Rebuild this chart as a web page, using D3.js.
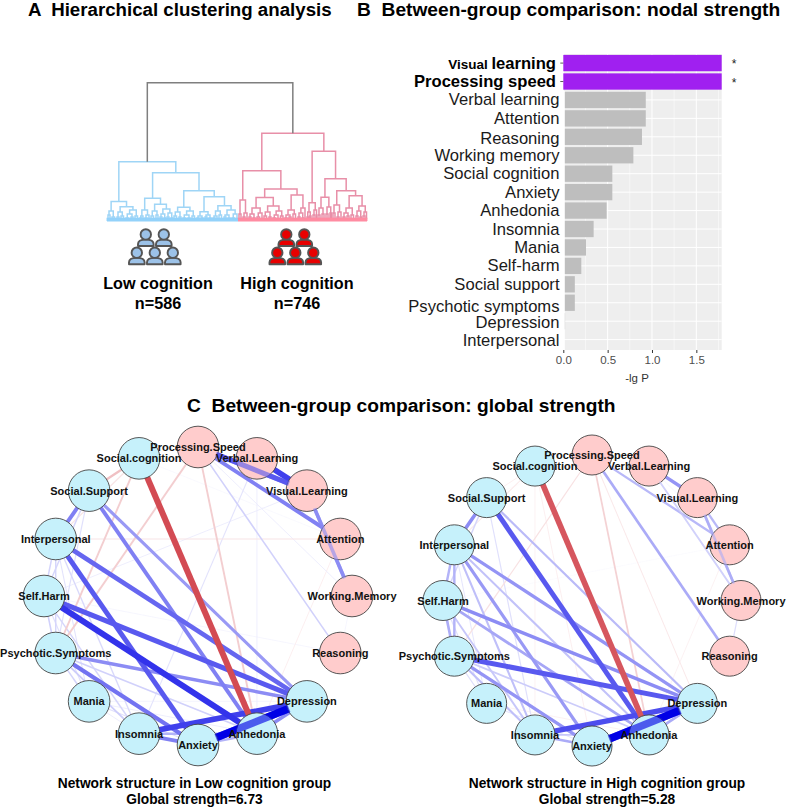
<!DOCTYPE html>
<html>
<head>
<meta charset="utf-8">
<script src="https://cdnjs.cloudflare.com/ajax/libs/d3/7.8.5/d3.min.js"></script>
<style>
html,body{margin:0;padding:0;background:#fff}
svg{display:block}
text{font-family:"Liberation Sans",Arial,sans-serif}
</style>
</head>
<body>
<svg id="fig" width="787" height="807"></svg>
<script>
// Panel B: nodal strength comparison
const domains = ["Visual learning","Processing speed","Verbal learning","Attention","Reasoning","Working memory","Social cognition","Anxiety","Anhedonia","Insomnia","Mania","Self-harm","Social support","Psychotic symptoms","Depression","Interpersonal"];
const lgP = [1.79,1.79,0.93,0.93,0.887,0.79,0.553,0.553,0.489,0.342,0.256,0.203,0.13,0.13,0.02,0.003];
const significant = ["Visual learning","Processing speed"];
const xTicks = [0,0.5,1,1.5];

// Panel C: network nodes, in clockwise order from the top
const nodeNames = ["Processing.Speed","Verbal.Learning","Visual.Learning","Attention","Working.Memory","Reasoning","Depression","Anhedonia","Anxiety","Insomnia","Mania","Psychotic.Symptoms","Self.Harm","Interpersonal","Social.Support","Social.cognition"];
const cognitiveNodes = nodeNames.slice(0,6);

// Edges: [from, to, weight]; negative weights are drawn red
const lowEdges = [
 ["Anxiety","Depression",1],["Insomnia","Depression",.75],["Self.Harm","Anhedonia",.8],["Interpersonal","Anxiety",.65],
 ["Interpersonal","Depression",.6],["Self.Harm","Depression",.65],["Psychotic.Symptoms","Depression",.45],["Social.Support","Depression",.4],
 ["Social.Support","Anhedonia",.5],["Psychotic.Symptoms","Anxiety",.55],["Insomnia","Anxiety",.5],["Anhedonia","Depression",.45],
 ["Social.Support","Interpersonal",.5],["Verbal.Learning","Visual.Learning",.75],["Processing.Speed","Visual.Learning",.65],
 ["Processing.Speed","Attention",.5],["Visual.Learning","Working.Memory",.45],["Processing.Speed","Reasoning",.18],
 ["Social.cognition","Anhedonia",-.8],["Processing.Speed","Anhedonia",-.22],["Social.cognition","Psychotic.Symptoms",-.22],
 ["Processing.Speed","Psychotic.Symptoms",-.22],["Social.Support","Social.cognition",-.28],["Social.cognition","Interpersonal",-.12],
 ["Interpersonal","Attention",-.12],["Verbal.Learning","Anhedonia",.08],["Verbal.Learning","Insomnia",.11],["Visual.Learning","Self.Harm",.08],
 ["Anhedonia","Attention",-.08],["Interpersonal","Self.Harm",.17],["Interpersonal","Psychotic.Symptoms",.16],["Interpersonal","Mania",.11],
 ["Interpersonal","Insomnia",.15],["Self.Harm","Mania",.12],["Self.Harm","Insomnia",.16],["Psychotic.Symptoms","Mania",.17],
 ["Psychotic.Symptoms","Insomnia",.2],["Mania","Insomnia",.08],["Mania","Anhedonia",.08],["Mania","Anxiety",.12],["Mania","Depression",.06],
 ["Self.Harm","Psychotic.Symptoms",.18],["Social.Support","Self.Harm",.16],["Social.Support","Psychotic.Symptoms",.12],
 ["Insomnia","Anhedonia",.3],["Psychotic.Symptoms","Anhedonia",.18],["Processing.Speed","Working.Memory",.08],["Reasoning","Working.Memory",.05],
 ["Verbal.Learning","Attention",.06],["Social.cognition","Attention",.04],["Self.Harm","Reasoning",.05],["Anxiety","Anhedonia",.3]
];
const highEdges = [
 ["Anxiety","Depression",1],["Insomnia","Depression",.7],["Social.Support","Anhedonia",.65],["Psychotic.Symptoms","Depression",.65],
 ["Self.Harm","Depression",.45],["Interpersonal","Depression",.42],["Interpersonal","Anxiety",.4],["Psychotic.Symptoms","Anxiety",.42],
 ["Social.Support","Depression",.27],["Social.Support","Interpersonal",.45],["Interpersonal","Insomnia",.25],["Interpersonal","Anhedonia",.24],
 ["Interpersonal","Self.Harm",.3],["Interpersonal","Psychotic.Symptoms",.3],["Social.Support","Self.Harm",.16],["Social.Support","Insomnia",.12],
 ["Self.Harm","Anhedonia",.35],["Self.Harm","Insomnia",.22],["Psychotic.Symptoms","Insomnia",.25],["Psychotic.Symptoms","Anhedonia",.2],
 ["Self.Harm","Psychotic.Symptoms",.32],["Psychotic.Symptoms","Mania",.12],["Self.Harm","Mania",.12],["Interpersonal","Mania",.1],
 ["Insomnia","Anxiety",.33],["Anhedonia","Depression",.33],["Insomnia","Anhedonia",.22],["Mania","Anxiety",.1],
 ["Processing.Speed","Attention",.28],["Processing.Speed","Reasoning",.33],["Verbal.Learning","Visual.Learning",.42],["Verbal.Learning","Working.Memory",.18],
 ["Visual.Learning","Working.Memory",.32],["Visual.Learning","Attention",.28],["Reasoning","Working.Memory",.13],
 ["Social.cognition","Anhedonia",-.75],["Processing.Speed","Anhedonia",-.2],["Processing.Speed","Depression",-.1],["Anhedonia","Attention",-.07],
 ["Processing.Speed","Psychotic.Symptoms",-.13],["Social.cognition","Interpersonal",-.1],["Social.Support","Social.cognition",-.08],
 ["Social.cognition","Insomnia",-.07],["Social.cognition","Anxiety",-.08],["Mania","Anhedonia",-.07],["Verbal.Learning","Attention",.05],
 ["Processing.Speed","Social.Support",-.03],["Attention","Self.Harm",.03]
];
// Edges that stay visible across the circles they pass behind
const lowCrossing = [["Anxiety","Depression"],["Processing.Speed","Visual.Learning"],["Visual.Learning","Working.Memory"]];
const highCrossing = [["Anxiety","Depression"],["Visual.Learning","Working.Memory"],["Verbal.Learning","Working.Memory"]];

// Panel A: dendrogram as [merge height, left, right]; a bare number is a tuft of that many leaves
const lowTree = [59.3,
 [19.5,
  [10,[6,2,2],[4,2,3]],
  [14.3,[9,[4,2,2],[5,2,3]],[11,[7,[3,2,3],[4,2,2]],[5,2,3]]]],
 [48.3,
  [22.7,
   [11,[5,[3,2,1],2],[6,[3,2,2],2]],
   [16.7,[10,[5,2,3],[6,2,2]],[12,[7,[4,2,2],[3,2,1]],[8,[4,2,2],[3,2,1]]]]],
  [30.3,
   [13.7,[9,[5,2,3],[4,2,2]],[10,[6,[3,2,3],[3,2,2]],[5,2,3]]],
   [24.3,
    [9.3,[5,[3,2,2],[3,2,2]],[6,[4,2,2],[3,2,2]]],
    [15.3,[10,[5,[3,2,2],2],[6,2,3]],[11,[6,[4,2,2],[3,2,2]],[7,[3,2,3],2]]]]]]];
const highTree = [87.7,
 [50.3,
  [21,[7,2,2],[8,[4,2,2],2]],
  [32,
   [23.5,
    [13,[7,[4,2,2],[3,2,2]],[8,[4,2,3],2]],
    [15,[9,[5,2,3],[4,2,2]],[10,[6,[3,2,3],2],[5,3,2]]]],
   [26,[11,[6,[3,2,2],[4,2,2]],[7,2,3]],[13,[8,[4,2,2],[3,2,1]],2]]]],
 [69.7,
  [18.3,[9,[4,2,1],[5,1,2]],[11,[6,2,2],1]],
  [42.3,
   [23.7,[13,[6,2,2],[7,2,2]],[14,[7,2,2],[8,2,1]]],
   [30.3,
    [16,[8,2,2],[9,[4,2,2],2]],
    [25.3,[13,[8,[4,2,2],[5,2,2]],[6,2,3]],[15,[10,[5,2,2],[4,2,1]],[9,[5,2,2],1]]]]]]];
const rootHeight = 138.3;
const groups = [
 {name:"Low cognition", n:"n=586", tree:lowTree, line:"#9fd5f6", band:"#93d2fa", fill:"#9cc2e8"},
 {name:"High cognition", n:"n=746", tree:highTree, line:"#e88fa8", band:"#ff8ca2", fill:"#e80000"}
];

const svg = d3.select("#fig");

function bold(sel, size){ return sel.attr("font-weight",700).attr("font-size",size).attr("fill","#000"); }

// Panel headings
[["A  Hierarchical clustering analysis",28,15.5,18.7],["B  Between-group comparison: nodal strength",357,15.5,19.2],["C  Between-group comparison: global strength",187,412,19.2]]
 .forEach(([t,x,y,s])=>bold(svg.append("text").attr("x",x).attr("y",y).style("white-space","pre").text(t),s));

// ---------- Panel A ----------
(function dendrogram(){
  const totalLeaves = 260;
  const x = d3.scaleLinear().domain([0,totalLeaves]).range([107,367]);
  const y = d3.scaleLinear().domain([0,rootHeight]).range([221,82.7]);
  const g = svg.append("g").attr("fill","none").attr("stroke-width",1.5);
  let cursor = 0;
  const tops = [];
  groups.forEach(gr=>{
    const root = d3.hierarchy(gr.tree, d=>Array.isArray(d)?d.slice(1):null);
    const first = cursor;
    root.eachAfter(n=>{
      if(n.children){
        n.px = d3.mean(n.children,c=>c.px);
        n.h = n.data[0];
      } else {
        n.px = cursor + n.data/2;
        n.from = cursor; n.to = cursor + n.data;
        n.h = 2.5;
        cursor += n.data;
      }
    });
    root.each(n=>{
      if(n.children){
        const [a,b] = n.children;
        g.append("path").attr("stroke",gr.line)
         .attr("d",`M${x(a.px)},${y(a.h)}V${y(n.h)}H${x(b.px)}V${y(b.h)}`);
      } else {
        g.append("path").attr("stroke",gr.band).attr("d",`M${x(n.from)+.3},${y(0)}V${y(n.h)}H${x(n.to)-.3}V${y(0)}`);
      }
    });
    // Solid leaf band along the baseline
    svg.append("rect").attr("x",x(first)).attr("width",x(cursor)-x(first)).attr("y",y(2.5)).attr("height",y(0)-y(2.5)+.5).attr("fill",gr.band);
    tops.push(root);
  });
  g.append("path").attr("stroke","#7f7f7f")
   .attr("d",`M${x(tops[0].px)},${y(tops[0].h)}V${y(rootHeight)}H${x(tops[1].px)}V${y(tops[1].h)}`);

  // People pictograms and group labels
  const slots = [[0,-9],[1,9],[1,-18],[1,0],[1,18]];
  const rowY = [235,253.3];
  const iconCx = [154.8,295.3];
  groups.forEach((gr,i)=>{
    slots.forEach(([row,dx],k)=>{
      const cx = iconCx[i]+dx, cy = rowY[k<2?0:1];
      const p = svg.append("g").attr("transform",`translate(${cx},${cy})`).attr("fill",gr.fill).attr("stroke","#555").attr("stroke-width",1.9);
      p.append("path").attr("d","M-7.8,11V9C-7.8,5.6 -4.6,4.6 0,4.6C4.6,4.6 7.8,5.6 7.8,9V11Z").attr("stroke-linejoin","round");
      p.append("circle").attr("r",5.2).attr("cy",-.6);
    });
    const cx = [158,297][i];
    bold(svg.append("text").attr("x",cx).attr("y",288.5).attr("text-anchor","middle").text(gr.name),16.2);
    bold(svg.append("text").attr("x",cx).attr("y",308.5).attr("text-anchor","middle").text(gr.n),16.2);
  });
})();

// ---------- Panel B ----------
(function bars(){
  const x = d3.scaleLinear().domain([0,1.786]).range([563.3,721.7]);
  const y = d3.scaleBand().domain(domains).range([54,348.7]).paddingInner(.115).paddingOuter(.05);
  const top=54,bottom=350;
  svg.append("rect").attr("x",x(0)).attr("y",top).attr("width",x.range()[1]-x(0)).attr("height",bottom-top).attr("fill","#eeeeee");
  const grid = svg.append("g").attr("stroke","#fff");
  const minor = [.25,.75,1.25,1.75];
  grid.selectAll(".mn").data(minor).join("line").attr("x1",x).attr("x2",x).attr("y1",top).attr("y2",bottom).attr("stroke-width",.5);
  grid.selectAll(".mj").data(xTicks).join("line").attr("x1",x).attr("x2",x).attr("y1",top).attr("y2",bottom).attr("stroke-width",1);
  grid.selectAll(".hz").data(domains).join("line").attr("x1",x(0)).attr("x2",x.range()[1])
    .attr("y1",d=>y(d)+y.bandwidth()/2).attr("y2",d=>y(d)+y.bandwidth()/2).attr("stroke-width",1);
  svg.append("g").selectAll("rect").data(domains).join("rect")
    .attr("x",x(0)).attr("y",d=>y(d)).attr("height",y.bandwidth())
    .attr("width",(d,i)=>Math.min(x(lgP[i]),x.range()[1])-x(0))
    .attr("fill",d=>significant.includes(d)?"#a020f0":"#bebebe");
  // Pale rule along the axis below the highlighted rows
  svg.append("rect").attr("x",x(0)-.5).attr("width",2).attr("y",y(domains[2])-1).attr("height",bottom-y(domains[2])+1).attr("fill","#fff");

  const labelNudge = {"Reasoning":2,"Psychotic symptoms":4,"Depression":1.5,"Interpersonal":.5};
  domains.forEach(d=>{
    const cy = y(d)+y.bandwidth()/2+(labelNudge[d]||0)+5.5;
    if(significant.includes(d)){
      const t = svg.append("text").attr("x",556).attr("y",cy).attr("text-anchor","end").attr("font-weight",700).attr("font-size",16.6);
      if(d==="Visual learning"){
        t.append("tspan").attr("font-size",13.5).text("Visual ");
        t.append("tspan").text("learning");
      } else t.text(d);
      svg.append("text").attr("x",734).attr("y",y(d)+y.bandwidth()/2+5).attr("text-anchor","middle").attr("font-size",12).attr("fill","#222").text("*");
      svg.append("line").attr("x1",x(0)-3).attr("x2",x(0)).attr("y1",y(d)+y.bandwidth()/2).attr("y2",y(d)+y.bandwidth()/2).attr("stroke","#333").attr("stroke-width",.8);
    } else {
      svg.append("text").attr("x",559.5).attr("y",cy).attr("text-anchor","end").attr("font-size",16.6).attr("fill","#1a1a1a").text(d);
    }
  });

  const axis = d3.axisBottom(x).tickValues(xTicks).tickFormat(d3.format(".1f")).tickSize(3).tickPadding(3);
  const ax = svg.append("g").attr("transform",`translate(0,${bottom})`).call(axis);
  ax.select(".domain").remove();
  ax.selectAll("line").attr("stroke","#333");
  ax.selectAll("text").attr("font-family",'"Liberation Sans",Arial,sans-serif').attr("font-size",11.5).attr("fill","#4d4d4d");
  svg.append("text").attr("x",637).attr("y",382).attr("text-anchor","middle").attr("font-size",11.5).attr("fill","#333").text("-lg P");
})();

// ---------- Panel C ----------
const width = d3.scaleLinear().domain([0,1]).range([.3,7.5]);
const blue = d3.scaleLinear().domain([0,1]).range(["#ffffff","#0000e6"]);
const red = d3.scaleLinear().domain([0,1]).range(["#ffffff","#c81e28"]);
const angle = d3.scaleLinear().domain([0,nodeNames.length]).range([0,2*Math.PI]);

function network(edges, crossing, cx, cy, rx, ry, r, title, sub, titleX){
  const pos = {};
  nodeNames.forEach((n,i)=>{ pos[n]=[cx+rx*Math.sin(angle(i)), cy-ry*Math.cos(angle(i))]; });
  const ends = e=>{
    const [x1,y1]=pos[e[0]],[x2,y2]=pos[e[1]];
    const L=Math.hypot(x2-x1,y2-y1),s=(r-1.5)/L;
    return [x1+(x2-x1)*s,y1+(y2-y1)*s,x2-(x2-x1)*s,y2-(y2-y1)*s];
  };
  const paint = (sel)=>sel
    .attr("x1",e=>ends(e)[0]).attr("y1",e=>ends(e)[1]).attr("x2",e=>ends(e)[2]).attr("y2",e=>ends(e)[3])
    .attr("stroke",e=>e[2]<0?red(-e[2]):blue(e[2])).attr("stroke-width",e=>width(Math.abs(e[2])));
  const sorted = edges.slice().sort((a,b)=>Math.abs(a[2])-Math.abs(b[2]));
  svg.append("g").selectAll("line").data(sorted).join("line").call(paint);
  const g = svg.append("g");
  g.selectAll("circle").data(nodeNames).join("circle")
    .attr("cx",d=>pos[d][0]).attr("cy",d=>pos[d][1]).attr("r",r)
    .attr("fill",d=>cognitiveNodes.includes(d)?"#ffcccc":"#c6f1fb").attr("stroke","#444").attr("stroke-width",.9);
  const over = edges.filter(e=>crossing.some(c=>c[0]===e[0]&&c[1]===e[1]));
  svg.append("g").attr("opacity",.62).selectAll("line").data(over).join("line").call(paint);
  svg.append("g").selectAll("text").data(nodeNames).join("text")
    .attr("x",d=>pos[d][0]).attr("y",d=>pos[d][1]+4).attr("text-anchor","middle")
    .attr("font-weight",700).attr("font-size",11).attr("fill","#111").text(d=>d);
  bold(svg.append("text").attr("x",titleX).attr("y",788).attr("text-anchor","middle").text(title),13.75);
  bold(svg.append("text").attr("x",titleX).attr("y",804).attr("text-anchor","middle").text(sub),13.75);
}
network(lowEdges,lowCrossing,198,596,154,149,20.8,"Network structure in Low cognition group","Global strength=6.73",194.5);
network(highEdges,highCrossing,592,600.5,149,145.5,20,"Network structure in High cognition group","Global strength=5.28",607);
</script>
</body>
</html>
